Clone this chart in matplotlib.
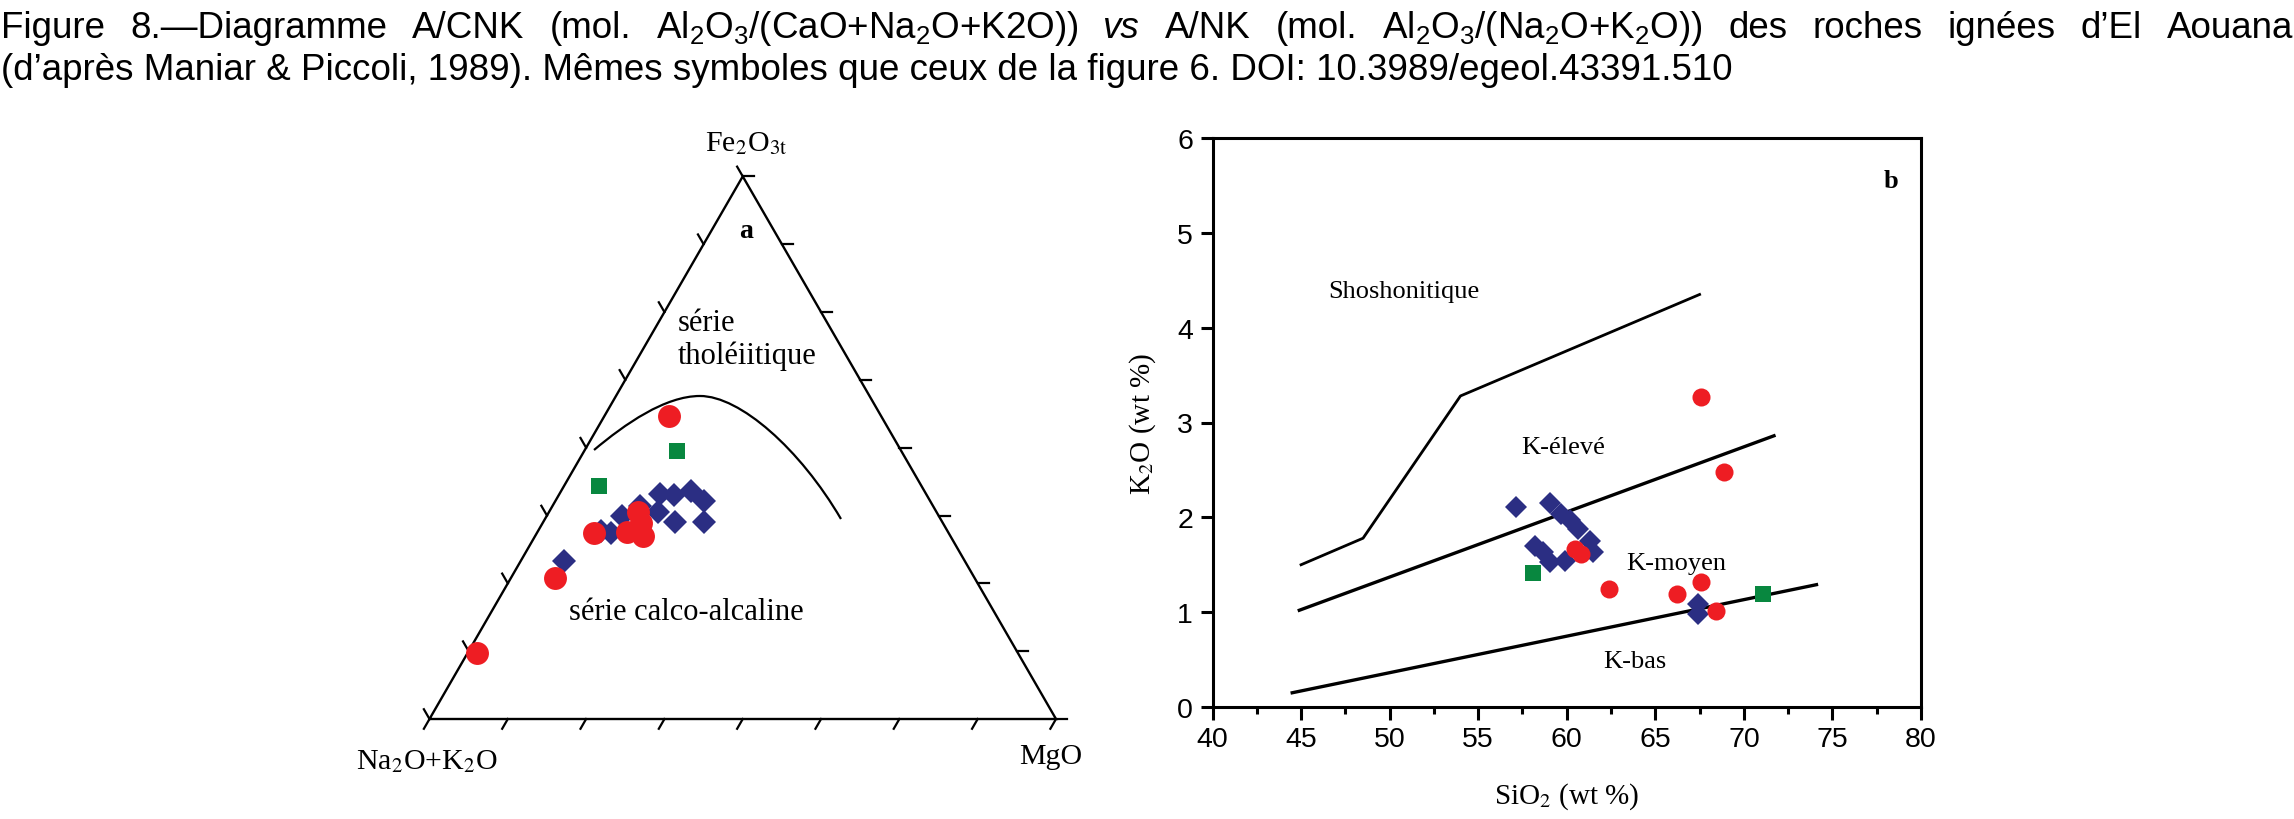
import numpy as np
import matplotlib
matplotlib.use('Agg')
import matplotlib.pyplot as plt
from matplotlib.path import Path
from matplotlib.patches import PathPatch

plt.rcParams['mathtext.fontset'] = 'custom'
plt.rcParams['mathtext.rm'] = 'Liberation Sans'
plt.rcParams['mathtext.it'] = 'Liberation Sans:italic'
plt.rcParams['mathtext.bf'] = 'Liberation Sans:bold'

# --- couleurs des symboles (mêmes que figure 6)
RED = '#EE1D23'
BLUE = '#2B2E83'
GREEN = '#08873F'

# --- (a) diagramme AFM : fractions Fe2O3t (F) et MgO (M), A = 1 - F - M
afm_red_F = [0.558, 0.342, 0.381, 0.345, 0.338, 0.362, 0.260, 0.122]
afm_red_M = [0.104, 0.092, 0.143, 0.142, 0.171, 0.157, 0.071, 0.015]
afm_green_F = [0.493, 0.430]
afm_green_M = [0.149, 0.056]
afm_blue_F = [0.292, 0.347, 0.343, 0.375, 0.381, 0.415, 0.412, 0.421, 0.401,
              0.363, 0.363, 0.392]
afm_blue_M = [0.068, 0.100, 0.118, 0.120, 0.174, 0.161, 0.185, 0.207, 0.238,
              0.211, 0.257, 0.140]
# limite tholéiitique / calco-alcaline (points de contrôle d'une courbe de Bézier)
curve_F = [0.4958, 0.5437, 0.5953, 0.5953, 0.5953, 0.4976, 0.3686]
curve_M = [0.0147, 0.0402, 0.0783, 0.1341, 0.1980, 0.3426, 0.4725]

# --- (b) K2O vs SiO2
red_sio2 = [67.6, 68.9, 60.45, 60.8, 62.4, 66.2, 67.6, 68.45]
red_k2o = [3.27, 2.48, 1.67, 1.61, 1.245, 1.19, 1.32, 1.016]
green_sio2 = [58.1, 71.07]
green_k2o = [1.41, 1.19]
blue_sio2 = [57.15, 59.08, 59.7, 60.17, 60.64, 61.3, 61.5, 58.2, 58.66, 59.04,
             59.9, 67.4, 67.4]
blue_k2o = [2.105, 2.15, 2.04, 1.97, 1.88, 1.75, 1.63, 1.70, 1.63, 1.53,
            1.54, 1.09, 0.98]
# limites des séries
shosho_x = [45.0, 48.5, 54.0, 67.5]
shosho_y = [1.50, 1.78, 3.28, 4.35]
high_k_x = [44.9, 71.7]
high_k_y = [1.02, 2.86]
low_k_x = [44.5, 74.1]
low_k_y = [0.15, 1.29]

W, H = 2294, 820
fig = plt.figure(figsize=(W / 100, H / 100), dpi=100)

SERIF = 'Liberation Serif'
SANS = 'Liberation Sans'


def tern(F, M):
    F = np.asarray(F)
    M = np.asarray(M)
    return M + F / 2.0, F * np.sqrt(3) / 2.0


# ================= (a) ternaire =================
ax_t = fig.add_axes([429.5 / W, 100 / H, 626.5 / W, 542.6 / H])
ax_t.set_xlim(0, 1)
ax_t.set_ylim(0, np.sqrt(3) / 2)
ax_t.axis('off')

h = np.sqrt(3) / 2
ax_t.plot([0, 1, 0.5, 0], [0, 0, h, 0], color='black', lw=1.7,
          clip_on=False, solid_joinstyle='miter')

L = 0.018
for k in range(9):
    t = k / 8.0
    # base
    px, py = t, 0.0
    ax_t.plot([px, px - 0.5 * L], [py, py - h * L], color='black', lw=1.6, clip_on=False)
    # côté droit
    px, py = 1 - 0.5 * t, h * t
    ax_t.plot([px, px + L], [py, py], color='black', lw=1.6, clip_on=False)
    # côté gauche
    px, py = 0.5 - 0.5 * t, h * (1 - t)
    ax_t.plot([px, px - 0.5 * L], [py, py + h * L], color='black', lw=1.6, clip_on=False)

cx, cy = tern(curve_F, curve_M)
codes = [Path.MOVETO] + [Path.CURVE4] * (len(cx) - 1)
ax_t.add_patch(PathPatch(Path(np.column_stack([cx, cy]), codes),
                         facecolor='none', edgecolor='black', lw=1.6))

bx, by = tern(afm_blue_F, afm_blue_M)
ax_t.plot(bx, by, 'D', color=BLUE, ms=12, mew=0, clip_on=False)
gx, gy = tern(afm_green_F, afm_green_M)
ax_t.plot(gx, gy, 's', color=GREEN, ms=12, mew=0, clip_on=False)
rx, ry = tern(afm_red_F, afm_red_M)
ax_t.plot(rx, ry, 'o', color=RED, ms=16.5, mew=0, clip_on=False)

ax_t.text(0.505, 0.92, 'Fe$_2$O$_{\\mathrm{3t}}$', family=SERIF, fontsize=21.5,
          ha='center', va='center', math_fontfamily='stix')
ax_t.text(0.505, 0.78, 'a', family=SERIF, fontsize=20, fontweight='bold',
          ha='center', va='center')
ax_t.text(0.397, 0.6065, 'série\ntholéiitique', family=SERIF, fontsize=22,
          ha='left', va='center', linespacing=1.12)
ax_t.text(0.2226, 0.1708, 'série calco-alcaline', family=SERIF, fontsize=22,
          ha='left', va='center')
ax_t.text(-0.004, -0.067, 'Na$_2$O+K$_2$O', family=SERIF, fontsize=21.5,
          ha='center', va='center', math_fontfamily='stix')
ax_t.text(0.992, -0.059, 'MgO', family=SERIF, fontsize=21.5,
          ha='center', va='center')

# ================= (b) K2O - SiO2 =================
ax = fig.add_axes([1212.5 / W, 112 / H, 708.5 / W, 569 / H])
ax.set_xlim(40, 80)
ax.set_ylim(0, 6)
ax.set_xticks(np.arange(40, 81, 5))
ax.set_xticks(np.arange(42.5, 80, 5), minor=True)
ax.set_yticks(np.arange(0, 7, 1))
ax.tick_params(which='major', direction='out', length=9, width=2.2, pad=5,
               labelsize=20.5)
ax.tick_params(axis='x', which='minor', direction='out', length=5, width=2.2)
for lab in ax.get_xticklabels() + ax.get_yticklabels():
    lab.set_family(SANS)
for sp in ax.spines.values():
    sp.set_linewidth(2.2)

ax.plot(shosho_x, shosho_y, color='black', lw=2.0)
ax.plot(high_k_x, high_k_y, color='black', lw=2.4)
ax.plot(low_k_x, low_k_y, color='black', lw=2.4)

ax.plot(blue_sio2, blue_k2o, 'D', color=BLUE, ms=11, mew=0)
ax.plot(green_sio2, green_k2o, 's', color=GREEN, ms=11.5, mew=0)
ax.plot(red_sio2, red_k2o, 'o', color=RED, ms=13, mew=0)

ax.text(46.55, 4.39, 'Shoshonitique', family=SERIF, fontsize=19, ha='left', va='center')
ax.text(57.44, 2.74, 'K-élevé', family=SERIF, fontsize=19, ha='left', va='center')
ax.text(63.37, 1.52, 'K-moyen', family=SERIF, fontsize=19, ha='left', va='center')
ax.text(62.05, 0.49, 'K-bas', family=SERIF, fontsize=19, ha='left', va='center')
ax.text(78.3, 5.55, 'b', family=SERIF, fontsize=19, fontweight='bold',
        ha='center', va='center')

ax.set_xlabel('SiO$_2$ (wt %)', family=SERIF, fontsize=21, math_fontfamily='stix')
ax.set_ylabel('K$_2$O (wt %)', family=SERIF, fontsize=21, math_fontfamily='stix')
ax.xaxis.set_label_coords(0.5, (708 - 797) / 569.0)
ax.xaxis.label.set_va('center')
ax.yaxis.set_label_coords((1143 - 1212.5) / 708.5, 0.5)
ax.yaxis.label.set_va('center')

# ================= légende (texte justifié) =================
line1 = ['Figure', '8.—Diagramme', 'A/CNK', '(mol.', 'Al$_2$O$_3$/(CaO+Na$_2$O+K2O))',
         'vs', 'A/NK', '(mol.', 'Al$_2$O$_3$/(Na$_2$O+K$_2$O))', 'des', 'roches',
         'ignées', 'd’El', 'Aouana']
line2 = '(d’après Maniar & Piccoli, 1989). Mêmes symboles que ceux de la figure 6. DOI: 10.3989/egeol.43391.510'
CAP_FS = 26.5

fig.canvas.draw()
renderer = fig.canvas.get_renderer()
words = []
for w in line1:
    t = fig.text(0, 1 - 38 / H, w, family=SANS, fontsize=CAP_FS, va='baseline',
                 ha='left', style='italic' if w == 'vs' else 'normal')
    words.append(t)
widths = [t.get_window_extent(renderer).width for t in words]
x0, x1 = 1.0, W - 1.0
gap = (x1 - x0 - sum(widths)) / (len(words) - 1)
x = x0
for t, wd in zip(words, widths):
    t.set_x(x / W)
    x += wd + gap

fig.text(1.0 / W, 1 - 80 / H, line2, family=SANS, fontsize=CAP_FS, va='baseline', ha='left')

fig.savefig('out.png', dpi=100)
